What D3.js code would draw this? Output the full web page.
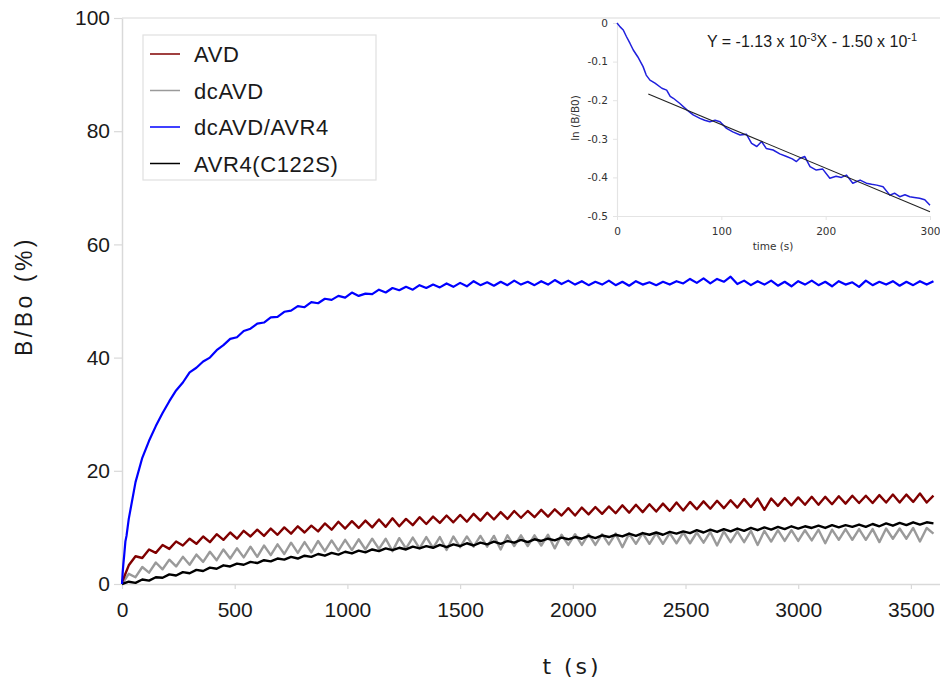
<!DOCTYPE html>
<html><head><meta charset="utf-8">
<script src="https://cdn.jsdelivr.net/npm/d3@7"></script>
<style>body{margin:0;background:#fff} svg{display:block}</style>
</head><body>
<svg id="chart" width="940" height="680"></svg>
<script>
// ---------- data ----------
const seriesNames = ["AVD", "dcAVD", "dcAVD/AVR4", "AVR4(C122S)"];
const seriesColors = ["#800000", "#9a9a9a", "#0000ff", "#000000"];
const gridTimes = d3.range(0, 3601, 30);   // sampling times (s), 0..3600 every 30 s

const avdValues = [0.3,3.3,4.9,4.6,6.1,5.5,6.9,6.2,7.5,6.8,8.0,7.1,8.4,7.4,8.8,7.8,9.1,8.0,9.4,8.4,
  9.6,8.5,9.8,8.7,10.0,8.9,10.2,9.1,10.3,9.3,10.7,9.6,11.0,9.8,11.1,9.9,11.2,10.0,11.4,10.1,
  11.6,10.2,11.5,10.4,11.8,10.6,11.9,10.8,12.1,10.9,12.2,11.0,12.4,11.2,12.6,11.4,12.7,11.5,12.9,11.7,
  12.9,11.8,13.1,11.9,13.2,12.1,13.4,12.1,13.5,12.3,13.6,12.4,13.7,12.5,13.9,12.6,14.0,12.7,14.1,12.8,
  14.2,12.9,14.4,13.0,14.5,13.2,14.6,13.3,14.7,13.4,14.8,13.5,15.0,13.6,15.1,13.1,15.1,13.8,15.2,13.9,
  15.3,14.0,15.4,14.0,15.4,14.1,15.5,14.2,15.6,14.3,15.6,14.3,15.7,14.4,15.8,14.4,15.8,14.5,16.0,14.4,15.6];

const dcavdValues = [0.0,1.8,1.2,3.0,2.0,3.8,2.6,4.3,3.1,4.8,3.4,5.2,3.9,5.7,4.2,6.1,4.5,6.3,4.7,6.6,
  4.8,6.8,5.1,7.0,5.3,7.3,5.5,7.4,5.6,7.6,5.8,7.7,5.9,7.8,6.0,7.9,6.1,8.0,6.2,8.0,
  5.8,8.1,6.3,8.2,6.3,8.3,6.4,8.3,6.0,8.4,6.5,8.4,6.6,8.5,6.6,8.5,6.1,8.6,6.7,8.6,
  6.7,8.6,6.8,8.7,6.3,8.7,6.9,8.8,6.9,8.8,6.9,8.8,7.0,8.9,6.5,8.9,7.1,9.0,7.1,9.0,
  7.1,9.0,7.2,9.1,7.2,9.1,7.3,9.2,6.8,9.3,7.4,9.3,7.4,9.4,6.9,9.4,7.5,9.5,7.6,9.5,
  7.6,9.5,7.7,9.6,7.2,9.6,7.8,9.7,7.8,9.7,7.8,9.7,7.4,9.8,8.0,9.8,8.0,9.9,7.5,9.9,8.9];

const avr4C122SValues = [0.0,0.4,0.2,0.8,0.6,1.2,1.1,1.7,1.5,2.1,1.9,2.5,2.3,2.9,2.7,3.3,3.1,3.6,3.4,3.9,
  3.7,4.2,4.0,4.5,4.3,4.8,4.5,5.0,4.8,5.3,5.0,5.5,5.2,5.7,5.4,5.9,5.6,6.1,5.8,6.3,
  6.0,6.4,6.1,6.6,6.3,6.7,6.4,6.9,6.5,7.0,6.7,7.2,6.8,7.3,7.0,7.5,7.1,7.6,7.3,7.8,
  7.4,7.9,7.6,8.0,7.7,8.2,7.9,8.3,8.0,8.5,8.1,8.6,8.3,8.7,8.4,8.9,8.5,9.0,8.7,9.1,
  8.7,9.2,8.9,9.3,9.0,9.5,9.1,9.6,9.2,9.7,9.3,9.8,9.4,9.9,9.5,10.0,9.6,10.1,9.7,10.2,
  9.8,10.2,9.9,10.3,9.9,10.4,10.0,10.4,10.1,10.5,10.1,10.6,10.2,10.7,10.3,10.8,10.4,10.9,10.5,10.9,10.7];

const blueEarlyTimes = [0, 3, 6, 10, 15, 20, 25];
const blueEarlyValues = [0, 2.0, 3.5, 5.2, 7.5, 8.5, 10.0];
// dcAVD/AVR4 on the 30 s grid from t = 30 s
const dcavdAvr4Values = [11.5,18.0,22.3,25.3,27.9,30.2,32.3,34.2,35.6,37.4,38.2,39.3,40.0,41.3,42.2,43.3,43.6,44.7,45.1,46.0,
  46.2,47.1,47.2,48.1,48.3,49.1,48.9,49.8,49.6,50.4,50.2,50.9,50.6,51.5,50.9,51.3,51.2,52.0,51.5,52.3,
  51.9,52.5,52.0,52.8,52.3,52.9,52.4,53.1,52.5,53.2,52.6,53.5,52.8,53.3,52.7,53.4,52.8,53.6,52.9,53.4,
  52.8,53.5,52.9,53.7,53.0,53.6,52.9,53.5,52.8,53.4,52.9,53.6,52.8,53.4,52.7,53.5,52.9,53.3,52.8,53.4,
  52.9,53.5,53.1,53.9,53.2,54.0,53.1,53.9,53.4,54.3,53.0,53.6,52.8,53.5,52.9,53.6,52.7,53.4,52.6,53.5,
  52.9,53.6,52.8,53.4,52.6,53.5,52.9,53.3,52.5,53.6,52.8,53.4,52.9,53.5,52.7,53.4,52.8,53.5,52.9,53.5];

const xTickValues = [0, 500, 1000, 1500, 2000, 2500, 3000, 3500];
const yTickValues = [0, 20, 40, 60, 80, 100];

// inset: ln(B/B0) of dcAVD/AVR4 vs time
const insetTimes = [0,3,6,9,12.5,15.6,20,25,28,31.6,36.4,43,47.6,51,54,60,67,73,79.5,84,89,94,98.7,105,111,118,124,129,134,138.6,
  143,149.6,156,162.5,168,172,175,180,185,191,197,204,210,215,220,226,233,239,244,249,255,261.5,266,271,276,280.6,285,290,295,300];
const insetValues = [0,-0.010,-0.018,-0.035,-0.053,-0.070,-0.088,-0.113,-0.135,-0.148,-0.156,-0.169,-0.174,-0.190,-0.195,-0.208,-0.225,-0.238,-0.247,-0.252,
  -0.256,-0.252,-0.256,-0.273,-0.282,-0.290,-0.288,-0.312,-0.320,-0.307,-0.325,-0.329,-0.339,-0.346,-0.352,-0.359,-0.351,-0.346,-0.372,-0.381,
  -0.378,-0.402,-0.397,-0.400,-0.394,-0.415,-0.407,-0.415,-0.418,-0.420,-0.424,-0.446,-0.441,-0.450,-0.445,-0.450,-0.452,-0.454,-0.458,-0.472];
const fitSlope = -1.13e-3, fitIntercept = -0.150;
const fitRange = [30, 300];
const insetXTicks = [0, 100, 200, 300];
const insetYTicks = [0, -0.1, -0.2, -0.3, -0.4, -0.5];

// ---------- build ----------
const svg = d3.select("#chart");
const axisCol = "#d9d9d9";
const mainFont = "'Liberation Sans', Arial, sans-serif";

const x = d3.scaleLinear().domain([0, 3629]).range([122, 940]);
const y = d3.scaleLinear().domain([0, 100]).range([584, 18]);

// top frame line
svg.append("line").attr("x1", 122).attr("x2", 940).attr("y1", y(100)).attr("y2", y(100))
  .attr("stroke", axisCol).attr("stroke-width", 1.2);

const gx = svg.append("g").attr("transform", `translate(0,${y(0)})`)
  .call(d3.axisBottom(x).tickValues(xTickValues).tickSize(5).tickSizeOuter(0).tickPadding(13).tickFormat(d3.format("d")));
const gy = svg.append("g").attr("transform", `translate(${x(0)},0)`)
  .call(d3.axisLeft(y).tickValues(yTickValues).tickSize(8).tickSizeOuter(0).tickPadding(4));
[gx, gy].forEach(g => {
  g.select(".domain").attr("stroke", axisCol).attr("stroke-width", 1.5);
  g.selectAll(".tick line").attr("stroke", axisCol).attr("stroke-width", 1.2);
  g.selectAll(".tick text").attr("fill", "#1a1a1a").style("font-family", mainFont);
});
gx.selectAll(".tick text").style("font-size", "21px");
gy.selectAll(".tick text").style("font-size", "21px");

// series
const line = d3.line().x(d => x(d[0])).y(d => y(d[1]));
const seriesData = [
  gridTimes.map((t, i) => [t, avdValues[i]]),
  gridTimes.map((t, i) => [t, dcavdValues[i]]),
  blueEarlyTimes.map((t, i) => [t, blueEarlyValues[i]]).concat(gridTimes.slice(1).map((t, i) => [t, dcavdAvr4Values[i]])),
  gridTimes.map((t, i) => [t, avr4C122SValues[i]])
];
const strokeWidths = [2.4, 2.4, 2.2, 2.4];
const drawOrder = [1, 0, 3, 2];
drawOrder.forEach(k => {
  svg.append("path").datum(seriesData[k]).attr("d", line)
    .attr("fill", "none").attr("stroke", seriesColors[k])
    .attr("stroke-width", strokeWidths[k]).attr("stroke-linejoin", "round");
});

// legend
const lg = svg.append("g");
lg.append("rect").attr("x", 143).attr("y", 35).attr("width", 233).attr("height", 145)
  .attr("fill", "#fff").attr("stroke", "#e0e0e0").attr("stroke-width", 1.2);
seriesNames.forEach((n, i) => {
  const yy = 54 + i * 36.5;
  lg.append("line").attr("x1", 150).attr("x2", 180).attr("y1", yy).attr("y2", yy)
    .attr("stroke", seriesColors[i]).attr("stroke-width", 1.5);
  lg.append("text").attr("x", 194).attr("y", yy + 8).text(n)
    .style("font-family", mainFont).style("font-size", "22px").style("letter-spacing", "0.6px").attr("fill", "#1a1a1a");
});

// axis titles
svg.append("text").attr("transform", "translate(32,296) rotate(-90)").attr("text-anchor", "middle")
  .text("B/Bo (%)").style("font-family", mainFont).style("font-size", "23px").style("letter-spacing", "3.5px").attr("fill", "#1a1a1a");
svg.append("text").attr("x", 572).attr("y", 674).attr("text-anchor", "middle")
  .text("t (s)").style("font-family", "'DejaVu Sans', Verdana, sans-serif").style("font-size", "22px").style("letter-spacing", "3px").attr("fill", "#1a1a1a");

// ---------- inset ----------
const ix = d3.scaleLinear().domain([0, 300]).range([617, 930]);
const iy = d3.scaleLinear().domain([-0.5, 0]).range([216, 23]);
const insetFont = "'DejaVu Sans', Verdana, sans-serif";
const insetAxisCol = "#e4e4e4";
const igx = svg.append("g").attr("transform", `translate(0,${iy(-0.5)})`)
  .call(d3.axisBottom(ix).tickValues(insetXTicks).tickSize(4).tickSizeOuter(0).tickPadding(8).tickFormat(d => String(d)));
const igy = svg.append("g").attr("transform", `translate(${ix(0)},0)`)
  .call(d3.axisLeft(iy).tickValues(insetYTicks).tickSize(4).tickSizeOuter(0).tickPadding(5).tickFormat(d => String(d)));
[igx, igy].forEach(g => {
  g.select(".domain").attr("stroke", insetAxisCol).attr("stroke-width", 1.2);
  g.selectAll(".tick line").attr("stroke", insetAxisCol);
  g.selectAll(".tick text").attr("fill", "#333").style("font-family", insetFont).style("font-size", "10.5px");
});
svg.append("text").attr("x", 773).attr("y", 250).attr("text-anchor", "middle").text("time (s)")
  .style("font-family", insetFont).style("font-size", "10.5px").attr("fill", "#333");
svg.append("text").attr("transform", "translate(579,118) rotate(-90)").attr("text-anchor", "middle").text("ln (B/B0)")
  .style("font-family", insetFont).style("font-size", "10.5px").attr("fill", "#333");

const iline = d3.line().x(d => ix(d[0])).y(d => iy(d[1]));
svg.append("path").datum(insetTimes.map((t, i) => [t, insetValues[i]])).attr("d", iline)
  .attr("fill", "none").attr("stroke", "#1f1fdd").attr("stroke-width", 1.5).attr("stroke-linejoin", "round");
svg.append("path").datum(fitRange.map(t => [t, fitSlope * t + fitIntercept])).attr("d", iline)
  .attr("fill", "none").attr("stroke", "#222").attr("stroke-width", 1.1);

const eq = svg.append("text").attr("x", 707).attr("y", 47)
  .style("font-family", mainFont).style("font-size", "16px").attr("fill", "#1a1a1a");
eq.append("tspan").text("Y = -1.13 x 10");
eq.append("tspan").attr("dy", -6).style("font-size", "11px").text("-3");
eq.append("tspan").attr("dy", 6).text("X  - 1.50 x 10");
eq.append("tspan").attr("dy", -6).style("font-size", "11px").text("-1");
</script>
</body></html>
